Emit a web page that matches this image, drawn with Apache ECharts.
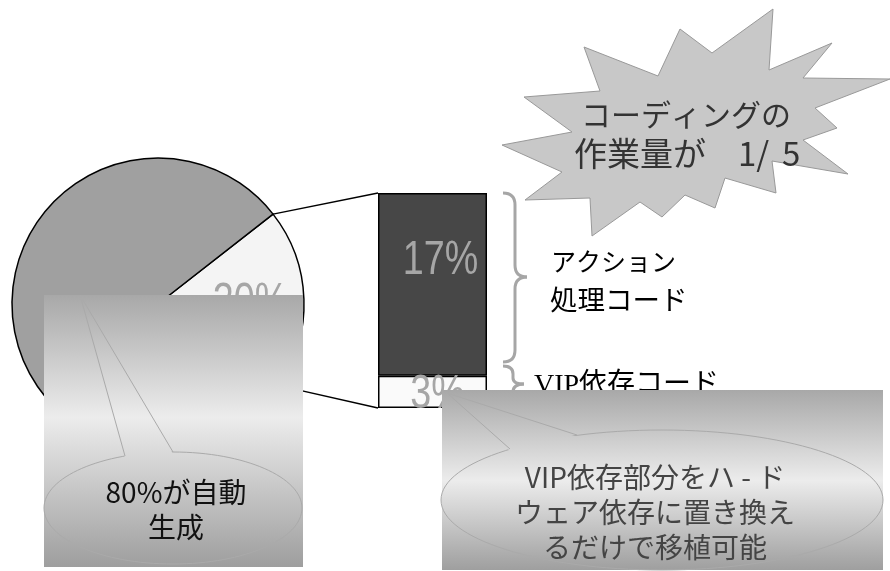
<!DOCTYPE html>
<html><head><meta charset="utf-8">
<script src="https://cdn.jsdelivr.net/npm/echarts@6/dist/echarts.min.js"></script>
<style>html,body{margin:0;padding:0;background:#fff}#c{width:890px;height:571px}</style>
</head><body><div id="c"></div>
<script>
// ---- data ----
const pieNames = ['手書きコード', '自動生成コード'];
const pieValues = [20, 80];
const barNames = ['VIP依存コード', 'アクション処理コード'];
const barValues = [3, 17];
const braceLines = ['アクション', '処理コード', 'VIP依存コード'];
const burstLines = ['コーディングの', '作業量が', '1/', '5'];
const note1Text = '80%が自動\n生成';
const note2Text = 'VIP依存部分をハ - ド\nウェア依存に置き換え\nるだけで移植可能';

// ---- layout ----
const PIE_C = [158, 304], PIE_R = 146, PIE_START = 38;
const BAR_GRID = {left: 378, top: 193, width: 109, height: 215};
const NUM_FONT = '"Liberation Sans", Arial, sans-serif';
const JP_FONT = '"Noto Sans CJK JP", sans-serif';
const GRAY = '#a6a6a6';

const chart = echarts.init(document.getElementById('c'), null, {renderer: 'canvas'});

chart.setOption({
  animation: false,
  backgroundColor: '#ffffff',
  grid: Object.assign({containLabel: false}, BAR_GRID),
  xAxis: {type: 'category', data: ['コード'], show: false},
  yAxis: {type: 'value', min: 0, max: 20, show: false},
  series: [
    {
      type: 'pie', center: PIE_C, radius: PIE_R, startAngle: PIE_START, clockwise: true,
      avoidLabelOverlap: false, silent: true,
      itemStyle: {borderColor: '#000', borderWidth: 1.5},
      label: {show: false}, labelLine: {show: false},
      emphasis: {disabled: true},
      data: [
        {name: pieNames[0], value: pieValues[0], itemStyle: {color: '#f4f4f4'}},
        {name: pieNames[1], value: pieValues[1], itemStyle: {color: '#a0a0a0'}}
      ]
    },
    {
      type: 'bar', name: barNames[0], stack: 's', barWidth: '100%', silent: true,
      data: [barValues[0]],
      itemStyle: {color: '#fafafa', borderColor: '#000', borderWidth: 1.5},
      emphasis: {disabled: true}
    },
    {
      type: 'bar', name: barNames[1], stack: 's', barWidth: '100%', silent: true,
      data: [barValues[1]],
      itemStyle: {color: '#474747', borderColor: '#000', borderWidth: 1.5},
      emphasis: {disabled: true}
    }
  ]
});

// ---- derived geometry ----
const total = pieValues.reduce((s, v) => s + v, 0);
function piePoint(deg, r) {
  const a = deg * Math.PI / 180;
  return [PIE_C[0] + r * Math.cos(a), PIE_C[1] - r * Math.sin(a)];
}
const sliceSweep = 360 * pieValues[0] / total;
const p1 = piePoint(PIE_START, PIE_R);
const p2 = piePoint(PIE_START - sliceSweep, PIE_R);
const pieLabelPos = piePoint(PIE_START - sliceSweep / 2, PIE_R * 0.634);
const barTop = chart.convertToPixel({seriesIndex: 2}, [0, barValues[0] + barValues[1]]);
const barBottom = chart.convertToPixel({seriesIndex: 1}, [0, 0]);
const seg17 = chart.convertToPixel({seriesIndex: 2}, [0, barValues[0] + barValues[1] / 2]);
const seg3 = chart.convertToPixel({seriesIndex: 1}, [0, barValues[0] / 2]);
const barLeft = BAR_GRID.left;

function numLabel(text, x, y) {
  return {type: 'text', z: 6, x: x, y: y, scaleX: 0.785,
    style: {text: text, x: 0, y: 0, align: 'center', verticalAlign: 'middle', fill: GRAY, fontSize: 48, fontFamily: NUM_FONT}};
}

function grad(y0, y1, stops) {
  return {type: 'linear', x: 0, y: y0, x2: 0, y2: y1, global: true,
    colorStops: stops.map(s => ({offset: s[0], color: s[1]}))};
}
const g1 = grad(295, 567, [[0, '#a8a8a8'], [0.45, '#ececec'], [1, '#9e9e9e']]);
const g2 = grad(390, 571, [[0, '#a8a8a8'], [0.5, '#ececec'], [1, '#9e9e9e']]);

function quad(x1, y1, cx, cy, x2, y2) {
  return {type: 'bezierCurve', z: 5, shape: {x1, y1, x2, y2, cpx1: cx, cpy1: cy},
    style: {stroke: GRAY, lineWidth: 3, fill: null}};
}
function seg(x1, y1, x2, y2, color, w, z) {
  return {type: 'line', z: z || 5, shape: {x1, y1, x2, y2}, style: {stroke: color, lineWidth: w}};
}
function txt(text, x, y, size, color, align, family, z, lh) {
  return {type: 'text', z: z || 5, style: {text, x, y, align: align || 'left', verticalAlign: 'middle',
    fill: color, fontSize: size, fontFamily: family || JP_FONT, lineHeight: lh || size}};
}

const burstPts = [[773,9],[769,70],[832,43],[803,78],[890,79],[815,108],[837,128],[803,140],
  [848,174],[772,161],[776,193],[725,178],[715,208],[685,195],[662,217],[640,202],[592,236],
  [590,198],[525,200],[562,172],[502,145],[572,132],[524,97],[600,91],[584,47],[658,76],[680,29],[712,53]];

function balloon(cx, cy, rx, ry, a, tip, b, fill, z) {
  return [
    {type: 'ellipse', z: z, shape: {cx, cy, rx, ry}, style: {fill: fill, stroke: '#aaaaaa', lineWidth: 1}},
    {type: 'polygon', z: z + 1, shape: {points: [[a[0], a[1] + 2], tip, [b[0], b[1] + 2]]}, style: {fill: fill}},
    {type: 'polyline', z: z + 2, shape: {points: [a, tip, b]}, style: {stroke: '#aaaaaa', lineWidth: 1, fill: null}}
  ];
}

const graphics = [
  seg(p1[0], p1[1], barLeft, barTop[1], '#000', 1.5, 4),
  seg(p2[0], p2[1], barLeft, barBottom[1], '#000', 1.5, 4),
  numLabel(Math.round(pieValues[0] / total * 100) + '%', pieLabelPos[0], pieLabelPos[1] + 2),
  numLabel(barValues[1] + '%', seg17[0] + 8, seg17[1] - 24),
  numLabel(barValues[0] + '%', seg3[0] + 5, seg3[1] + 3),
  // large brace
  quad(503, 193, 515, 193, 515, 205), seg(515, 205, 515, 265, GRAY, 3),
  quad(515, 265, 515, 277, 527, 277), quad(527, 277, 515, 277, 515, 289),
  seg(515, 289, 515, 350, GRAY, 3), quad(515, 350, 515, 362, 503, 362),
  // small brace
  quad(503, 366, 513, 366, 513, 374), seg(513, 374, 513, 378, GRAY, 3),
  quad(513, 378, 513, 384, 524, 384), quad(524, 384, 513, 384, 513, 392),
  // brace labels
  txt(braceLines[0], 551, 261, 25, '#000'),
  txt(braceLines[1], 550, 300, 27.5, '#000'),
  txt(braceLines[2], 534, 386, 28, '#000', 'left', '"Liberation Serif", "Noto Sans CJK JP", serif'),
  // starburst
  {type: 'polygon', z: 10, shape: {points: burstPts}, style: {fill: '#c8c8c8', stroke: '#999999', lineWidth: 1}},
  txt(burstLines[0], 686, 115, 30, '#333333', 'center', JP_FONT, 11),
  txt(burstLines[1], 574, 153, 33, '#333333', 'left', JP_FONT, 11),
  txt(burstLines[2], 738, 153, 33, '#333333', 'left', JP_FONT, 11),
  txt(burstLines[3], 782, 153, 33, '#333333', 'left', JP_FONT, 11),
  // panel 1
  {type: 'rect', z: 20, shape: {x: 44, y: 295, width: 259, height: 272}, style: {fill: g1}},
  ...balloon(173, 508, 129, 56, [125, 456], [80, 295], [173, 452], g1, 21),
  txt(note1Text, 176, 510, 28, '#111111', 'center', JP_FONT, 25, 35),
  // panel 2
  {type: 'rect', z: 20, shape: {x: 442, y: 390, width: 441, height: 180}, style: {fill: g2}},
  ...balloon(662, 500, 221, 70, [510, 449], [447, 393], [577, 435], g2, 21),
  txt(note2Text, 655, 512, 28, '#444444', 'center', JP_FONT, 25, 35)
];

chart.setOption({graphic: {elements: graphics}});
</script>
</body></html>
